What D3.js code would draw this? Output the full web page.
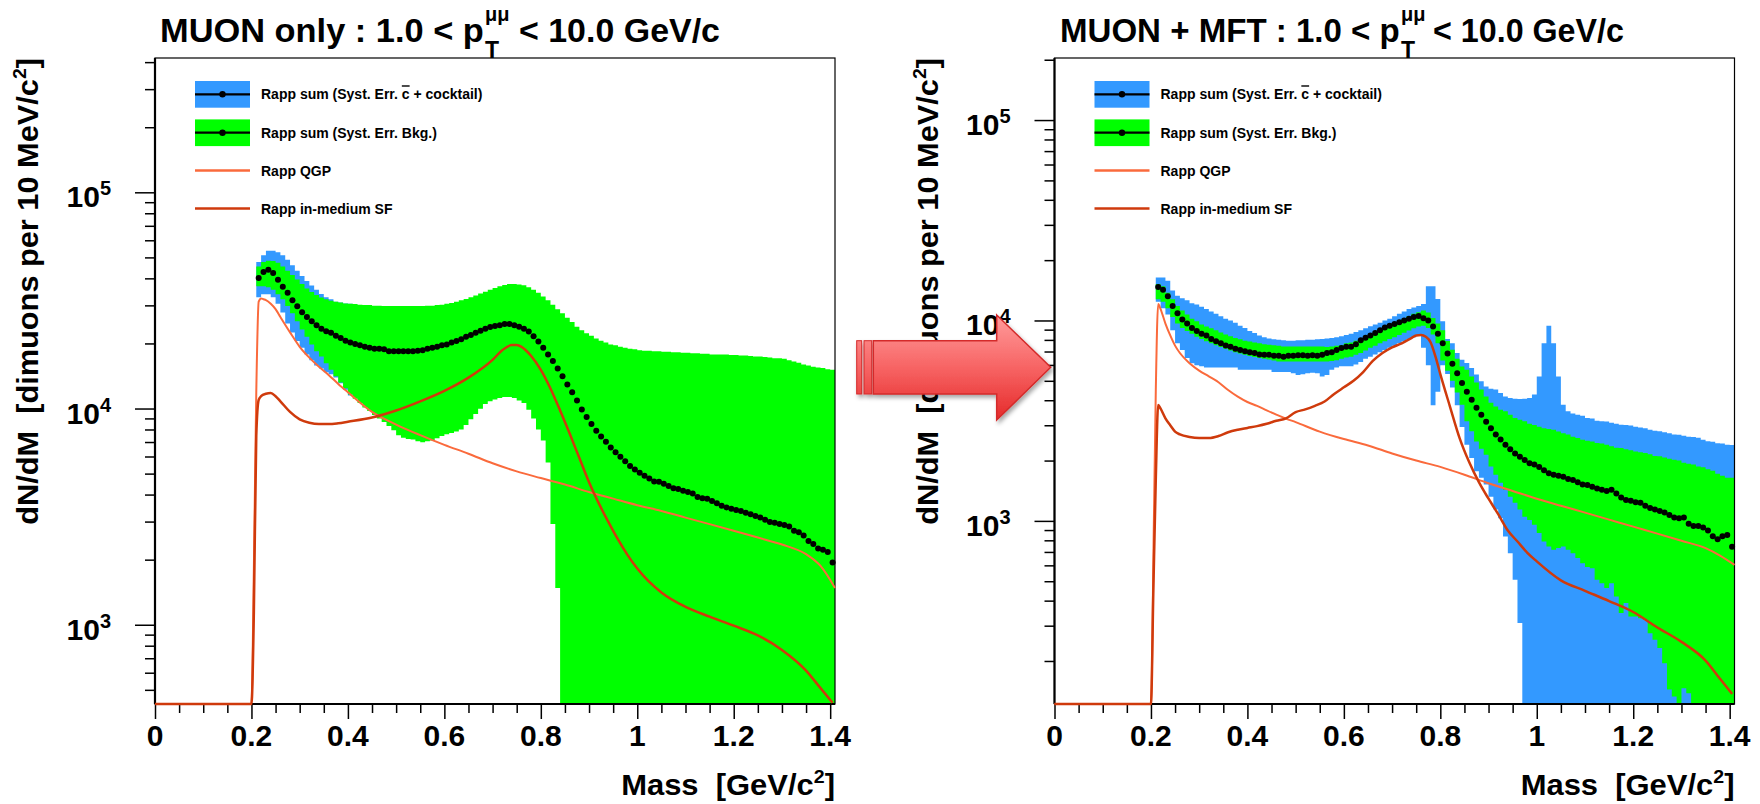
<!DOCTYPE html>
<html>
<head>
<meta charset="utf-8">
<script src="https://cdn.jsdelivr.net/npm/d3@7"></script>
<style>
body { margin: 0; background: #fff; }
svg { display: block; }
text { font-family: "Liberation Sans", Arial, sans-serif; font-weight: bold; fill: #000; }
</style>
</head>
<body>
<div id="chart"></div>
<script>
// histogram binning (10 MeV bins starting at 0.21 GeV)
var binStart = 0.21, binWidth = 0.01;

// ---- MUON only ----
var leftDots = [
  40200, 42800, 43800, 42400, 39400, 36600, 34300, 31700, 29700, 27900,
  26500, 25300, 24300, 23400, 22800, 22400, 21700, 21200, 20600, 20200,
  19900, 19600, 19300, 19100, 18900, 18900, 18800, 18400, 18400, 18400,
  18400, 18400, 18400, 18500, 18600, 18900, 19100, 19300, 19600, 19800,
  20200, 20500, 20900, 21500, 21900, 22400, 22900, 23400, 23800, 24100,
  24300, 24600, 24600, 24300, 23900, 23400, 22700, 21600, 20400, 19100,
  17800, 16600, 15300, 14100, 12900, 11900, 10900, 9900, 9130, 8470,
  7890, 7430, 7020, 6600, 6270, 5980, 5710, 5420, 5220, 5050,
  4890, 4750, 4600, 4590, 4490, 4380, 4280, 4240, 4170, 4110,
  4050, 3900, 3850, 3830, 3740, 3650, 3550, 3490, 3440, 3390,
  3360, 3300, 3240, 3180, 3130, 3060, 2990, 2960, 2920, 2890,
  2850, 2720, 2680, 2590, 2440, 2360, 2250, 2220, 2170, 1940];
var leftGreenHi = [
  45400, 47600, 48300, 48100, 47200, 45400, 43400, 41400, 39500, 37700,
  35900, 34600, 33500, 32600, 32000, 31500, 31200, 30900, 30600, 30500,
  30400, 30200, 30100, 30100, 29900, 29900, 29800, 29800, 29800, 29800,
  29800, 29800, 29800, 29800, 29800, 29900, 29900, 30100, 30200, 30500,
  30800, 31200, 31700, 32100, 32700, 33300, 34000, 34700, 35400, 36100,
  36800, 37300, 37700, 37700, 37500, 37200, 36400, 35400, 34300, 33000,
  31700, 30200, 28800, 27600, 26300, 25100, 23900, 23000, 22300, 21700,
  21100, 20600, 20200, 19800, 19600, 19300, 19100, 18900, 18800, 18600,
  18500, 18500, 18400, 18400, 18300, 18300, 18200, 18200, 18100, 18100,
  18000, 18000, 17900, 17900, 17800, 17800, 17800, 17800, 17700, 17700,
  17600, 17600, 17500, 17400, 17400, 17300, 17200, 17100, 17100, 17000,
  16700, 16500, 16300, 16000, 15800, 15600, 15500, 15400, 15200, 15100];
var leftGreenLo = [
  36800, 36800, 36400, 35400, 33800, 32000, 29800, 27600, 25300, 23200,
  21500, 19800, 18400, 17400, 16200, 15100, 14100, 13200, 12400, 11600,
  11100, 10600, 10100, 9740, 9340, 9000, 8670, 8310, 7930, 7530,
  7320, 7220, 7190, 7050, 6980, 7050, 7120, 7290, 7460, 7600,
  7710, 7820, 8000, 8390, 8910, 9430, 9970, 10500, 10800, 11000,
  11200, 11300, 11300, 11200, 10900, 10600, 9880, 9000, 8000, 7120,
  5630, 2920, 1480, 0, 0, 0, 0, 0, 0, 0,
  0, 0, 0, 0, 0, 0, 0, 0, 0, 0,
  0, 0, 0, 0, 0, 0, 0, 0, 0, 0,
  0, 0, 0, 0, 0, 0, 0, 0, 0, 0,
  0, 0, 0, 0, 0, 0, 0, 0, 0, 0,
  0, 0, 0, 0, 0, 0, 0, 0, 0, 0];
// blue band only shows on the first 20 bins, it is under the green one after that
var leftBlueHi = [
  47600, 51100, 53600, 53600, 52800, 51100, 48800, 46000, 43400, 41000,
  38900, 37100, 35400, 33900, 32700, 32000, 31200, 30900, 30600, 30500];
var leftBlueLo = [
  32700, 33800, 33800, 32700, 30500, 27800, 24700, 22500, 20500, 19100,
  17800, 16700, 15800, 15300, 14700, 14400, 13900, 13100, 12200, 11500];
var leftQgpMass = [0, 0.2, 0.205, 0.21, 0.215, 0.22, 0.225, 0.23, 0.24, 0.25,
  0.26, 0.28, 0.30, 0.32, 0.34, 0.36, 0.38, 0.40, 0.45, 0.50,
  0.55, 0.60, 0.65, 0.70, 0.75, 0.80, 0.85, 0.90, 0.95, 1.00,
  1.05, 1.10, 1.15, 1.20, 1.25, 1.30, 1.35, 1.38, 1.41];
var leftQgp = [0, 0, 1820, 11900, 31200, 32300, 32000, 31700, 30500, 28800,
  26500, 22500, 19300, 17200, 15600, 14300, 13000, 11900, 9650, 8430,
  7530, 6790, 6180, 5580, 5120, 4770, 4450, 4110, 3830, 3570,
  3360, 3130, 2920, 2720, 2530, 2350, 2120, 1870, 1480];
var leftSfMass = [0, 0.2, 0.205, 0.21, 0.215, 0.22, 0.23, 0.24, 0.25, 0.26,
  0.28, 0.30, 0.32, 0.34, 0.36, 0.38, 0.40, 0.45, 0.50, 0.55,
  0.60, 0.65, 0.70, 0.72, 0.74, 0.75, 0.76, 0.78, 0.80, 0.82,
  0.84, 0.86, 0.88, 0.90, 0.92, 0.94, 0.96, 0.98, 1.00, 1.05,
  1.10, 1.15, 1.20, 1.25, 1.30, 1.35, 1.38, 1.405];
var leftSf = [0, 0, 1140, 7460, 10960, 11400, 11700, 11800, 11400, 10800,
  9650, 8910, 8590, 8470, 8470, 8550, 8690, 9090, 9790, 10790,
  12070, 13900, 16800, 18600, 19650, 19650, 19300, 17500, 15100, 12380,
  9790, 7640, 5900, 4560, 3650, 2990, 2480, 2100, 1820, 1410,
  1210, 1090, 990, 893, 765, 614, 509, 436];

// ---- MUON + MFT ----
var rightDots = [
  14700, 14250, 13200, 11800, 10850, 10100, 9660, 9180, 8860, 8590,
  8420, 8080, 7880, 7690, 7500, 7390, 7230, 7120, 7020, 6950,
  6880, 6770, 6740, 6740, 6670, 6670, 6600, 6670, 6670, 6700,
  6700, 6670, 6700, 6670, 6740, 6880, 6950, 7120, 7290, 7390,
  7390, 7600, 7960, 8210, 8420, 8660, 8950, 9230, 9420, 9600,
  9800, 10000, 10200, 10400, 10520, 10250, 10000, 9320, 8590, 7690,
  6840, 6090, 5450, 4870, 4410, 4020, 3670, 3390, 3120, 2900,
  2700, 2550, 2400, 2280, 2170, 2090, 2010, 1940, 1910, 1860,
  1790, 1730, 1700, 1680, 1660, 1620, 1600, 1560, 1520, 1510,
  1480, 1450, 1430, 1410, 1430, 1370, 1310, 1270, 1260, 1240,
  1230, 1190, 1160, 1140, 1120, 1100, 1070, 1040, 1030, 1040,
  967, 942, 942, 928, 895, 838, 809, 838, 851, 742];
var rightBlueHi = [
  16400, 16400, 15800, 14100, 13300, 12900, 12600, 12200, 12000, 11700,
  11400, 11100, 10800, 10500, 10200, 10000, 9750, 9410, 9180, 8870,
  8660, 8420, 8250, 8130, 8050, 8010, 7960, 7920, 7920, 7960,
  7960, 8010, 8010, 8050, 8090, 8130, 8170, 8250, 8340, 8460,
  8590, 8770, 8950, 9140, 9360, 9550, 9750, 10000, 10200, 10500,
  10800, 11100, 11400, 11600, 11800, 12100, 14800, 14800, 12800, 9900,
  8090, 7690, 6890, 6370, 6140, 5790, 5370, 4970, 4690, 4570,
  4520, 4350, 4180, 4100, 4070, 4060, 4070, 4100, 4270, 5260,
  7690, 9420, 7690, 5260, 3800, 3520, 3430, 3390, 3350, 3260,
  3240, 3160, 3140, 3130, 3090, 3050, 3020, 3010, 2990, 2950,
  2920, 2900, 2850, 2820, 2800, 2770, 2740, 2700, 2690, 2660,
  2630, 2620, 2600, 2540, 2500, 2480, 2440, 2430, 2400, 2390];
var rightBlueLo = [
  12400, 11500, 10700, 8950, 7690, 7120, 6500, 6120, 5970, 5910,
  5820, 5820, 5820, 5820, 5820, 5820, 5820, 5670, 5670, 5670,
  5670, 5670, 5670, 5670, 5530, 5530, 5530, 5530, 5450, 5340,
  5390, 5450, 5480, 5450, 5260, 5340, 5670, 5820, 5910, 5910,
  5910, 6030, 6210, 6440, 6600, 6760, 6950, 7120, 7310, 7490,
  7690, 7880, 8090, 8250, 8420, 7310, 5970, 3780, 4410, 5970,
  5400, 4630, 3780, 2940, 2400, 2060, 1770, 1640, 1520, 1320,
  1140, 1030, 836, 690, 508, 309, 0, 0, 0, 0,
  0, 0, 0, 0, 0, 0, 0, 0, 0, 0,
  0, 0, 0, 0, 0, 0, 0, 0, 0, 0,
  0, 0, 0, 0, 0, 0, 0, 0, 0, 0,
  0, 0, 0, 0, 0, 0, 0, 0, 0, 0];
var rightGreenHi = [
  15200, 14800, 13750, 12750, 11800, 11200, 10700, 10200, 9900, 9550,
  9320, 9140, 8950, 8720, 8510, 8340, 8170, 8050, 7920, 7850,
  7770, 7690, 7600, 7560, 7530, 7490, 7420, 7420, 7420, 7420,
  7420, 7420, 7420, 7420, 7420, 7380, 7420, 7490, 7530, 7690,
  7770, 7920, 8090, 8380, 8590, 8800, 9090, 9320, 9550, 9750,
  10000, 10200, 10500, 10800, 11000, 11200, 10950, 10300, 9650, 8950,
  7900, 7150, 6450, 5900, 5670, 5260, 4900, 4520, 4170, 3890,
  3720, 3590, 3520, 3390, 3260, 3200, 3140, 3050, 3010, 2950,
  2900, 2870, 2850, 2790, 2740, 2700, 2630, 2590, 2540, 2510,
  2490, 2450, 2430, 2400, 2360, 2320, 2310, 2280, 2250, 2220,
  2200, 2180, 2150, 2110, 2100, 2070, 2040, 2020, 2000, 1950,
  1930, 1910, 1870, 1850, 1810, 1780, 1720, 1680, 1640, 1640];
var rightGreenLo = [
  12750, 12400, 11500, 10400, 9650, 9180, 8870, 8590, 8290, 8090,
  7880, 7690, 7530, 7380, 7230, 7090, 6950, 6840, 6740, 6640,
  6570, 6500, 6440, 6380, 6310, 6250, 6250, 6250, 6250, 6250,
  6250, 6250, 6250, 6250, 6250, 6250, 6280, 6340, 6440, 6540,
  6600, 6740, 6880, 7090, 7310, 7490, 7690, 7880, 8090, 8250,
  8460, 8680, 8900, 9140, 9320, 9410, 9180, 8510, 7690, 6310,
  5620, 5010, 4370, 3800, 3140, 2800, 2490, 2290, 2140, 1870,
  1700, 1550, 1430, 1320, 1230, 1140, 1050, 1010, 957, 869,
  789, 745, 718, 733, 745, 718, 690, 652, 615, 589,
  581, 508, 489, 462, 489, 420, 347, 389, 333, 333,
  327, 321, 275, 255, 232, 195, 144, 133, 0, 146,
  138, 0, 0, 0, 0, 0, 0, 0, 0, 0];
var rightQgpMass = [0, 0.2, 0.206, 0.21, 0.215, 0.22, 0.23, 0.24, 0.25, 0.26,
  0.28, 0.30, 0.32, 0.34, 0.36, 0.38, 0.40, 0.42, 0.44, 0.46,
  0.48, 0.50, 0.55, 0.60, 0.65, 0.70, 0.75, 0.80, 0.85, 0.90,
  0.95, 1.00, 1.05, 1.10, 1.15, 1.20, 1.25, 1.30, 1.35, 1.38, 1.41];
var rightQgp = [0, 0, 966, 4400, 12100, 11400, 9650, 8420, 7490, 6880,
  6120, 5620, 5260, 4920, 4500, 4170, 3920, 3750, 3560, 3390,
  3240, 3110, 2790, 2560, 2380, 2170, 2000, 1860, 1700, 1540,
  1410, 1290, 1190, 1100, 1015, 936, 864, 796, 731, 671, 603];
var rightSfMass = [0, 0.2, 0.205, 0.21, 0.215, 0.22, 0.23, 0.24, 0.25, 0.26,
  0.28, 0.30, 0.32, 0.34, 0.36, 0.38, 0.40, 0.42, 0.44, 0.46,
  0.48, 0.50, 0.52, 0.54, 0.56, 0.58, 0.60, 0.62, 0.64, 0.66,
  0.68, 0.70, 0.72, 0.74, 0.75, 0.76, 0.77, 0.78, 0.79, 0.80,
  0.82, 0.84, 0.86, 0.88, 0.90, 0.92, 0.94, 0.96, 0.98, 1.00,
  1.05, 1.10, 1.15, 1.20, 1.25, 1.30, 1.35, 1.38, 1.405];
var rightSf = [0, 0, 452, 1600, 3790, 3630, 3250, 3000, 2790, 2700,
  2620, 2590, 2590, 2650, 2770, 2850, 2910, 2970, 3050, 3160,
  3250, 3490, 3600, 3750, 3940, 4300, 4640, 5000, 5530, 6280,
  6880, 7340, 7690, 8170, 8420, 8460, 8290, 7770, 6600, 5400,
  3720, 2590, 1960, 1560, 1290, 1080, 895, 789, 695, 628,
  505, 448, 398, 351, 294, 249, 201, 163, 137];

// axes and labels
var xTicks = [0, 0.2, 0.4, 0.6, 0.8, 1, 1.2, 1.4];
var yDecades = [100, 1000, 10000, 100000];
var legendLabels = ["Rapp sum (Syst. Err. ", "Rapp sum (Syst. Err. Bkg.)", "Rapp QGP", "Rapp in-medium SF"];

var blueFill = "#3399ff", greenFill = "#00ff00", qgpColor = "#fa6a3c", sfColor = "#cf3a0c";

var svg = d3.select("#chart").append("svg")
    .attr("width", 1760)
    .attr("height", 804);

var plotTop = 58, plotBottom = 704, plotWidth = 680, massMax = 1.41;

// squeeze / stretch a text horizontally to the width seen in the picture
function stretch(t, target) {
    var w = t.node().getBBox().width;
    t.attr("transform", "scale(" + (target / w) + ",1)");
}

function binPoints(hi, lo) {
    var pts = hi.map(function(h, i){ return {m: binStart + i * binWidth, hi: h, lo: lo[i]}; });
    pts.push({m: binStart + hi.length * binWidth, hi: hi[hi.length - 1], lo: lo[lo.length - 1]});
    return pts;
}

function drawPanel(p) {
    var g = svg.append("g");
    var x = d3.scaleLinear().domain([0, massMax]).range([p.left, p.left + plotWidth]);
    var y = d3.scaleLog().domain([p.yMin, p.yMax]).range([plotBottom, plotTop]);
    var yc = function(v){ return y(Math.max(p.yMin, Math.min(p.yMax, v))); };

    var band = d3.area().curve(d3.curveStepAfter)
        .x(function(d){ return x(d.m); })
        .y0(function(d){ return yc(d.lo); })
        .y1(function(d){ return yc(d.hi); });

    g.append("path").datum(binPoints(p.blueHi, p.blueLo)).attr("d", band).attr("fill", blueFill);
    g.append("path").datum(binPoints(p.greenHi, p.greenLo)).attr("d", band).attr("fill", greenFill);

    // frame
    g.append("rect")
        .attr("x", p.left).attr("y", plotTop)
        .attr("width", plotWidth).attr("height", plotBottom - plotTop)
        .attr("fill", "none").attr("stroke", "#000").attr("stroke-width", 1.2);

    // x axis
    var minorX = d3.range(0, massMax, 0.05).filter(function(v){ return Math.abs(v / 0.2 - Math.round(v / 0.2)) > 0.01; });
    g.append("g").attr("transform", "translate(0," + plotBottom + ")")
        .call(d3.axisBottom(x).tickValues(minorX).tickSize(9).tickFormat(""));
    g.append("g").attr("transform", "translate(0," + plotBottom + ")")
        .call(d3.axisBottom(x).tickValues(xTicks).tickSize(15).tickFormat(""));
    g.selectAll()
        .data(xTicks).enter().append("text")
        .attr("x", function(d){ return x(d); })
        .attr("y", plotBottom + 42)
        .attr("text-anchor", "middle")
        .style("font-size", "30px")
        .text(function(d){ return d3.format("~g")(d); });

    // y axis
    var minorY = [];
    yDecades.forEach(function(d){ for (var k = 2; k <= 9; k++) minorY.push(d * k); });
    minorY = minorY.filter(function(v){ return v > p.yMin && v < p.yMax; });
    var majorY = yDecades.filter(function(v){ return v > p.yMin && v < p.yMax; });
    g.append("g").attr("transform", "translate(" + p.left + ",0)")
        .call(d3.axisLeft(y).tickValues(minorY).tickSize(10).tickFormat(""));
    g.append("g").attr("transform", "translate(" + p.left + ",0)")
        .call(d3.axisLeft(y).tickValues(majorY).tickSize(20).tickFormat(""));
    var yl = g.selectAll()
        .data(majorY).enter().append("text")
        .attr("x", p.left - 44)
        .attr("y", function(d){ return y(d) + 15; })
        .attr("text-anchor", "end")
        .style("font-size", "30px")
        .text("10");
    yl.append("tspan")
        .attr("dy", -12)
        .style("font-size", "20px")
        .text(function(d){ return Math.round(Math.log10(d)); });

    g.selectAll(".domain").remove();
    g.selectAll(".tick line").attr("stroke-width", 1.5);
    // thicker axis lines
    g.append("line").attr("x1", p.left).attr("x2", p.left + plotWidth)
        .attr("y1", plotBottom).attr("y2", plotBottom).attr("stroke", "#000").attr("stroke-width", 2.2);
    g.append("line").attr("x1", p.left).attr("x2", p.left)
        .attr("y1", plotTop).attr("y2", plotBottom).attr("stroke", "#000").attr("stroke-width", 2.2);

    // model curves
    var curve = function(ms){
        return d3.line().curve(d3.curveMonotoneX)
            .x(function(d, i){ return x(ms[i]); })
            .y(function(d){ return yc(d); });
    };
    g.append("path").datum(p.qgp).attr("d", curve(p.qgpMass))
        .attr("fill", "none").attr("stroke", qgpColor).attr("stroke-width", 2);
    g.append("path").datum(p.sf).attr("d", curve(p.sfMass))
        .attr("fill", "none").attr("stroke", sfColor).attr("stroke-width", 2.5);

    // Rapp sum points
    g.selectAll()
        .data(p.dots).enter().append("circle")
        .attr("cx", function(d, i){ return x(binStart + (i + 0.5) * binWidth); })
        .attr("cy", function(d){ return yc(d); })
        .attr("r", 3)
        .attr("fill", "#000");

    // legend
    var lx = p.left + 40, tx = p.left + 106;
    var rows = [94.3, 132.7, 170.5, 208.5];
    [blueFill, greenFill].forEach(function(c, i){
        g.append("rect").attr("x", lx).attr("y", rows[i] - 13.3).attr("width", 55).attr("height", 26.7).attr("fill", c);
        g.append("line").attr("x1", lx).attr("x2", lx + 55).attr("y1", rows[i]).attr("y2", rows[i])
            .attr("stroke", "#000").attr("stroke-width", 2.2);
        g.append("circle").attr("cx", lx + 27.5).attr("cy", rows[i]).attr("r", 3.2).attr("fill", "#000");
    });
    [qgpColor, sfColor].forEach(function(c, i){
        g.append("line").attr("x1", lx).attr("x2", lx + 55).attr("y1", rows[i + 2]).attr("y2", rows[i + 2])
            .attr("stroke", c).attr("stroke-width", 2.5);
    });
    legendLabels.forEach(function(s, i){
        var t = g.append("text").attr("x", tx).attr("y", rows[i] + 5).style("font-size", "14px").text(s);
        if (i == 0) {
            t.append("tspan").attr("text-decoration", "overline").text("c");
            t.append("tspan").text(" + cocktail)");
        }
    });

    // title
    var tg = svg.append("g").attr("transform", "translate(" + p.title.start + ",42)");
    var t1 = tg.append("text").style("font-size", "33px").style("white-space", "pre").text(p.title.main);
    stretch(t1, p.title.pEnd - p.title.start);
    svg.append("text").attr("x", p.title.pEnd + 1).attr("y", 58).style("font-size", "23px").text("T");
    svg.append("text").attr("x", p.title.pEnd + 1).attr("y", 21).style("font-size", "20px").text("\u03bc\u03bc");
    var tg2 = svg.append("g").attr("transform", "translate(" + p.title.p2 + ",42)");
    var t2 = tg2.append("text").style("font-size", "33px").text("< 10.0 GeV/c");
    stretch(t2, p.title.end - p.title.p2);

    // y title
    var yg = svg.append("g").attr("transform", "translate(" + (p.left - 117) + "," + plotTop + ") rotate(-90)");
    var yt = yg.append("text").attr("text-anchor", "end").style("font-size", "30px").style("white-space", "pre")
        .text("dN/dM  [dimuons per 10 MeV/c");
    yt.append("tspan").attr("dy", -12).style("font-size", "19px").text("2");
    yt.append("tspan").attr("dy", 12).text("]");
    stretch(yt, 467);

    // x title
    var xg = svg.append("g").attr("transform", "translate(" + (p.left + plotWidth) + ",795)");
    var xt = xg.append("text").attr("text-anchor", "end").style("font-size", "30px").style("white-space", "pre")
        .text("Mass  [GeV/c");
    xt.append("tspan").attr("dy", -12).style("font-size", "19px").text("2");
    xt.append("tspan").attr("dy", 12).text("]");
    stretch(xt, 214);
}

var panels = [
    {left: 155, yMin: 430, yMax: 4.18e5,
     title: {main: "MUON only : 1.0 < p", start: 160, pEnd: 484, p2: 519, end: 720},
     dots: leftDots, greenHi: leftGreenHi, greenLo: leftGreenLo, blueHi: leftBlueHi, blueLo: leftBlueLo,
     qgpMass: leftQgpMass, qgp: leftQgp, sfMass: leftSfMass, sf: leftSf},
    {left: 1054.5, yMin: 122, yMax: 2.04e5,
     title: {main: "MUON + MFT : 1.0 < p", start: 1060, pEnd: 1400, p2: 1433, end: 1624},
     dots: rightDots, greenHi: rightGreenHi, greenLo: rightGreenLo, blueHi: rightBlueHi, blueLo: rightBlueLo,
     qgpMass: rightQgpMass, qgp: rightQgp, sfMass: rightSfMass, sf: rightSf}
];
panels.forEach(drawPanel);

// big red arrow between the two plots
var defs = svg.append("defs");
var grad = defs.append("linearGradient").attr("id", "arrowFill")
    .attr("gradientUnits", "userSpaceOnUse").attr("x1", 0).attr("y1", 315).attr("x2", 0).attr("y2", 420);
grad.append("stop").attr("offset", "0").attr("stop-color", "#ff9c9c");
grad.append("stop").attr("offset", "0.5").attr("stop-color", "#f76464");
grad.append("stop").attr("offset", "1").attr("stop-color", "#e52a2a");
var shadow = defs.append("filter").attr("id", "arrowShadow").attr("x", "-10%").attr("y", "-10%").attr("width", "130%").attr("height", "140%");
shadow.append("feDropShadow").attr("dx", 2).attr("dy", 3).attr("stdDeviation", 2).attr("flood-opacity", 0.35);

var arrow = svg.append("g").attr("filter", "url(#arrowShadow)");
arrow.append("rect").attr("x", 856.7).attr("y", 340.7).attr("width", 5).attr("height", 53.3)
    .attr("fill", "url(#arrowFill)").attr("stroke", "#d42a2a").attr("stroke-width", 1);
arrow.append("rect").attr("x", 864).attr("y", 340.7).attr("width", 7.7).attr("height", 53.3)
    .attr("fill", "url(#arrowFill)").attr("stroke", "#d42a2a").attr("stroke-width", 1);
arrow.append("path")
    .attr("d", "M873.3,340.7 L996.7,340.7 L996.7,315 L1050.7,367.3 L996.7,420 L996.7,394 L873.3,394 Z")
    .attr("fill", "url(#arrowFill)").attr("stroke", "#d42a2a").attr("stroke-width", 1.5);
</script>
</body>
</html>
